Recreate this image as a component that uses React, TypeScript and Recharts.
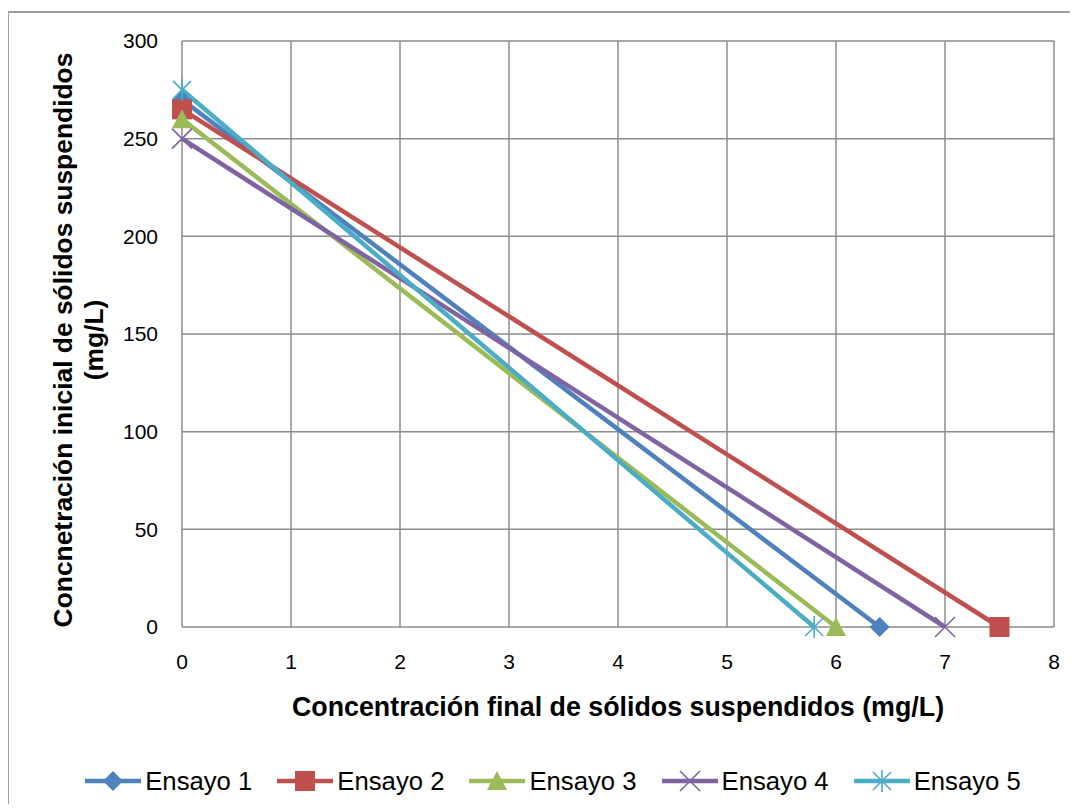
import React from 'react';
import { LineChart, Line, XAxis, YAxis, CartesianGrid, Legend, Label } from 'recharts';

const seriesNames = ['Ensayo 1', 'Ensayo 2', 'Ensayo 3', 'Ensayo 4', 'Ensayo 5'];
const seriesColors = ['#4F81BD', '#C0504D', '#9BBB59', '#8064A2', '#4BACC6'];
const markerShapes = ['diamond', 'square', 'triangle', 'x', 'star'];
// concentración inicial (punto en x = 0)
const initialValues = [270, 265, 260, 250, 275];
// concentración final (punto en y = 0)
const finalValues = [6.4, 7.5, 6.0, 7.0, 5.8];
const xTicks = [0, 1, 2, 3, 4, 5, 6, 7, 8];
const yTicks = [0, 50, 100, 150, 200, 250, 300];

const seriesData = seriesNames.map((_, i) => [
  { x: 0, y: initialValues[i] },
  { x: finalValues[i], y: 0 },
]);

const FONT = '"Liberation Sans", Arial, sans-serif';

function Marker({ cx, cy, shape, color }: { cx: number; cy: number; shape: string; color: string }) {
  if (cx == null || cy == null) return null;
  switch (shape) {
    case 'diamond':
      return <polygon points={`${cx},${cy - 10} ${cx + 10},${cy} ${cx},${cy + 10} ${cx - 10},${cy}`} fill={color} />;
    case 'square':
      return <rect x={cx - 10} y={cy - 10} width={20} height={20} fill={color} />;
    case 'triangle':
      return <polygon points={`${cx},${cy - 10} ${cx + 10},${cy + 9} ${cx - 10},${cy + 9}`} fill={color} />;
    case 'x':
      return (
        <path
          d={`M${cx - 10},${cy - 10}L${cx + 10},${cy + 10}M${cx + 10},${cy - 10}L${cx - 10},${cy + 10}`}
          stroke={color}
          strokeWidth={1.6}
          fill="none"
        />
      );
    default:
      return (
        <path
          d={`M${cx - 9},${cy - 9}L${cx + 9},${cy + 9}M${cx + 9},${cy - 9}L${cx - 9},${cy + 9}M${cx},${cy - 11}L${cx},${cy + 11}`}
          stroke={color}
          strokeWidth={1.6}
          fill="none"
        />
      );
  }
}

function LegendContent() {
  return (
    <div
      style={{
        width: 1062,
        height: 40,
        display: 'flex',
        alignItems: 'center',
        justifyContent: 'center',
        paddingLeft: 28,
        boxSizing: 'border-box',
        fontFamily: FONT,
        fontSize: 25.7,
        color: '#000',
        gap: 25,
      }}
    >
      {seriesNames.map((name, i) => (
        <div key={name} style={{ display: 'flex', alignItems: 'center' }}>
          <svg width={56} height={24} style={{ marginRight: 4 }}>
            <line x1={0} y1={12} x2={56} y2={12} stroke={seriesColors[i]} strokeWidth={4.5} />
            <Marker cx={28} cy={12} shape={markerShapes[i]} color={seriesColors[i]} />
          </svg>
          <span>{name}</span>
        </div>
      ))}
    </div>
  );
}

export default function App() {
  return (
    <div style={{ position: 'relative', width: 1062, height: 796, fontFamily: FONT }}>
      <div
        style={{
          position: 'absolute',
          left: -1,
          top: 3,
          width: 1070,
          height: 800,
          border: '2px solid #a0a0a0',
          boxSizing: 'border-box',
        }}
      />
      <LineChart
        width={1062}
        height={796}
        margin={{ top: 33, right: 16, bottom: 3, left: 0 }}
        style={{ position: 'absolute', left: 0, top: 0 }}
      >
        <CartesianGrid stroke="#8c8c8c" strokeWidth={1.5} />
        <XAxis
          dataKey="x"
          type="number"
          domain={[0, 8]}
          ticks={xTicks}
          interval={0}
          height={134}
          tickLine={false}
          axisLine={false}
          tickSize={0}
          tickMargin={27}
          tick={{ fill: '#000', fontSize: 21, fontFamily: FONT }}
        >
          <Label
            content={() => (
              <text x={610} y={708} textAnchor="middle" fontSize={26.8} fontWeight="bold" fontFamily={FONT} fill="#000">
                Concentración final de sólidos suspendidos (mg/L)
              </text>
            )}
          />
        </XAxis>
        <YAxis
          type="number"
          domain={[0, 300]}
          ticks={yTicks}
          interval={0}
          width={174}
          tickLine={false}
          axisLine={false}
          tickSize={0}
          tickMargin={24}
          tick={{ fill: '#000', fontSize: 21, fontFamily: FONT }}
        >
          <Label
            content={() => (
              <text
                transform="translate(64,332) rotate(-90)"
                textAnchor="middle"
                fontSize={26.4}
                fontWeight="bold"
                fontFamily={FONT}
                fill="#000"
              >
                <tspan x={0} y={0}>Concnetración inicial de sólidos suspendidos</tspan>
                <tspan x={0} y={31}>(mg/L)</tspan>
              </text>
            )}
          />
        </YAxis>
        <Legend verticalAlign="bottom" content={() => <LegendContent />} />
        {seriesNames.map((name, i) => (
          <Line
            key={name}
            name={name}
            data={seriesData[i]}
            dataKey="y"
            type="linear"
            stroke={seriesColors[i]}
            strokeWidth={4.5}
            isAnimationActive={false}
            legendType="none"
            dot={(props: any) => (
              <Marker
                key={`${name}-${props.index}`}
                cx={props.cx}
                cy={props.cy}
                shape={markerShapes[i]}
                color={seriesColors[i]}
              />
            )}
            activeDot={false}
          />
        ))}
      </LineChart>
    </div>
  );
}
